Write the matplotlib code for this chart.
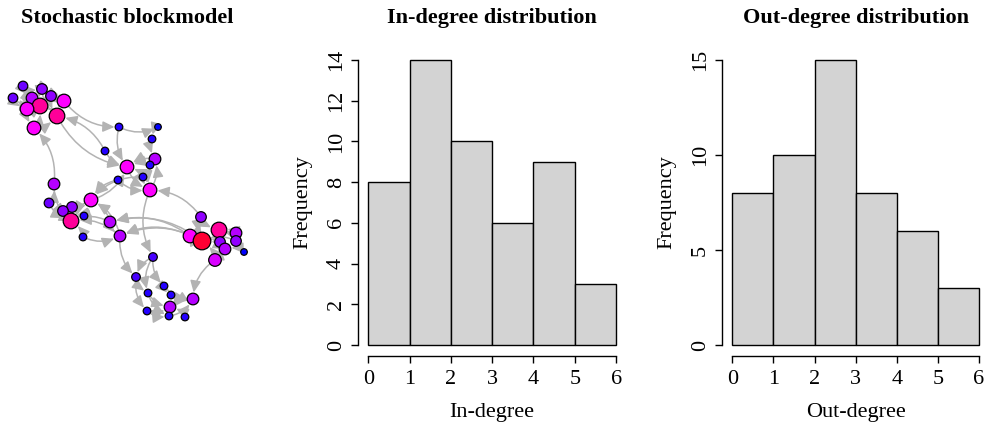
import matplotlib
matplotlib.use("Agg")
import matplotlib.pyplot as plt
from matplotlib.patches import FancyArrowPatch
from matplotlib.colors import LinearSegmentedColormap, Normalize
import numpy as np

plt.rcParams['font.family'] = ['Liberation Serif', 'DejaVu Serif']

# ---------------- data ----------------
# network layout (layout units, y grows downward), 5 blocks of 10 nodes
node_x = [23, 13, 42, 51, 32, 40, 27, 64, 57, 34,
          119, 105, 158, 152, 127, 155, 150, 143, 118, 150,
          54, 91, 49, 72, 63, 84, 71, 110, 120, 83,
          201, 219, 236, 190, 202, 220, 236, 225, 244, 215,
          153, 136, 164, 148, 171, 193, 170, 147, 169, 185]
node_y = [86, 98, 89, 96, 98, 106, 109, 101, 116, 128,
          127, 151, 127, 139, 167, 159, 165, 177, 180, 190,
          184, 200, 203, 207, 211, 216, 221, 222, 236, 237,
          217, 230, 233, 236, 241, 242, 241, 249, 252, 260,
          257, 277, 286, 293, 295, 299, 307, 311, 316, 317]
node_degree = [4, 4, 5, 5, 6, 10, 8, 8, 10, 8,
               2, 2, 1, 2, 8, 6, 2, 2, 2, 8,
               6, 8, 4, 5, 5, 2, 10, 6, 6, 2,
               5, 10, 6, 8, 12, 5, 5, 6, 1, 7,
               3, 3, 2, 2, 2, 6, 6, 2, 2, 2]
edges_from = [0, 1, 0, 2, 3, 4, 1, 6, 2, 3, 7, 8, 6, 9, 4, 0, 3, 7, 9, 2,
              11, 10, 12, 13, 15, 16, 17, 18, 19, 14, 16, 17, 15, 18,
              20, 22, 23, 24, 25, 21, 26, 27, 28, 29, 27, 28, 24, 22, 23, 29, 27,
              30, 30, 32, 33, 35, 36, 37, 38, 39, 34, 32, 35, 36, 37, 33, 39,
              40, 41, 42, 43, 44, 45, 47, 48, 49, 40, 41, 43, 42, 47, 40,
              7, 8, 11, 20, 10, 21, 19, 30, 33, 33, 34, 28, 39, 17, 18, 34]
edges_to = [5, 5, 4, 5, 5, 5, 6, 5, 8, 7, 5, 5, 9, 8, 6, 2, 8, 8, 5, 4,
            14, 14, 13, 15, 19, 14, 14, 14, 15, 19, 19, 19, 14, 19,
            26, 26, 26, 26, 26, 26, 21, 26, 26, 26, 21, 21, 23, 20, 21, 28, 28,
            34, 31, 31, 34, 34, 31, 34, 37, 34, 31, 36, 37, 34, 39, 30, 35,
            41, 43, 45, 46, 45, 46, 46, 45, 46, 42, 47, 48, 44, 48, 43,
            10, 14, 8, 9, 12, 14, 40, 19, 27, 28, 27, 41, 45, 21, 21, 28]

# histograms
bin_edges = [0, 1, 2, 3, 4, 5, 6]
in_counts = [8, 14, 10, 6, 9, 3]
out_counts = [8, 10, 15, 8, 6, 3]
in_yticks = [0, 2, 4, 6, 8, 10, 12, 14]
out_yticks = [0, 5, 10, 15]
x_ticks = [0, 1, 2, 3, 4, 5, 6]

titles = ["Stochastic blockmodel", "In-degree distribution", "Out-degree distribution"]
xlabels = ["In-degree", "Out-degree"]
ylabel = "Frequency"

# ---------------- figure ----------------
W, H = 988, 423
fig = plt.figure(figsize=(W / 100, H / 100), dpi=100)


def px_axes(left, top, right, bottom):
    return fig.add_axes([left / W, 1 - bottom / H, (right - left) / W, (bottom - top) / H])


FS = 16

# ---- network panel ----
axn = px_axes(0, 40, 260, 340)
axn.set_xlim(0, 260)
axn.set_ylim(340, 40)
axn.axis('off')

cmap = LinearSegmentedColormap.from_list('deg', [(0, '#0000ff'), (0.64, '#ff00ff'), (1, '#ff0033')])
norm = Normalize(vmin=1, vmax=12)
deg = np.array(node_degree)
radius_px = 2.8 + 0.5 * deg
radius_pt = radius_px * 0.72

for s, t in zip(edges_from, edges_to):
    arr = FancyArrowPatch((node_x[s], node_y[s]), (node_x[t], node_y[t]),
                          connectionstyle="arc3,rad=0.25",
                          arrowstyle="-|>,head_length=0.7,head_width=0.32",
                          mutation_scale=10, color='#b3b3b3', lw=1.1,
                          shrinkA=radius_pt[s] + 0.5, shrinkB=radius_pt[t] + 0.5,
                          zorder=1)
    axn.add_patch(arr)

axn.scatter(node_x, node_y, s=(2 * radius_pt) ** 2, c=cmap(norm(deg)),
            edgecolors='black', linewidths=0.9, zorder=2)

fig.text(127 / W, 1 - 23 / H, titles[0], ha='center', va='baseline',
         fontsize=FS, fontweight='bold')


# ---- histograms ----
def hist_panel(left, right, counts, yticks, title, xlabel):
    top, bottom = 48.6, 356.4
    ax = px_axes(left, top, right, bottom)
    ymax = yticks[-1]
    ax.set_xlim(-0.24, 6.24)
    ax.set_ylim(-0.04 * ymax, 1.04 * ymax)
    ax.bar(bin_edges[:-1], counts, width=np.diff(bin_edges), align='edge',
           color='#d3d3d3', edgecolor='black', linewidth=1.0)
    for sp in ['top', 'right']:
        ax.spines[sp].set_visible(False)
    ax.spines['left'].set_bounds(yticks[0], yticks[-1])
    ax.spines['bottom'].set_bounds(x_ticks[0], x_ticks[-1])
    for sp in ['left', 'bottom']:
        ax.spines[sp].set_linewidth(1.0)
    ax.set_xticks(x_ticks)
    ax.set_yticks(yticks)
    ax.tick_params(axis='both', direction='out', length=5, width=1.0,
                   labelsize=FS, pad=5)
    for lab in ax.get_yticklabels():
        lab.set_rotation(90)
        lab.set_va('center')
    ax.tick_params(axis='y', pad=4)
    cx = (left + right) / 2
    fig.text(cx / W, 1 - 23 / H, title, ha='center', va='baseline',
             fontsize=FS, fontweight='bold')
    fig.text(cx / W, 1 - 417 / H, xlabel, ha='center', va='baseline', fontsize=FS)
    fig.text((left - 56) / W, 1 - 202.5 / H, ylabel, ha='center', va='center',
             rotation=90, fontsize=FS)
    return ax


hist_panel(358.4, 626.0, in_counts, in_yticks, titles[1], xlabels[0])
hist_panel(722.4, 988.9, out_counts, out_yticks, titles[2], xlabels[1])

fig.savefig("out.png", dpi=100)
